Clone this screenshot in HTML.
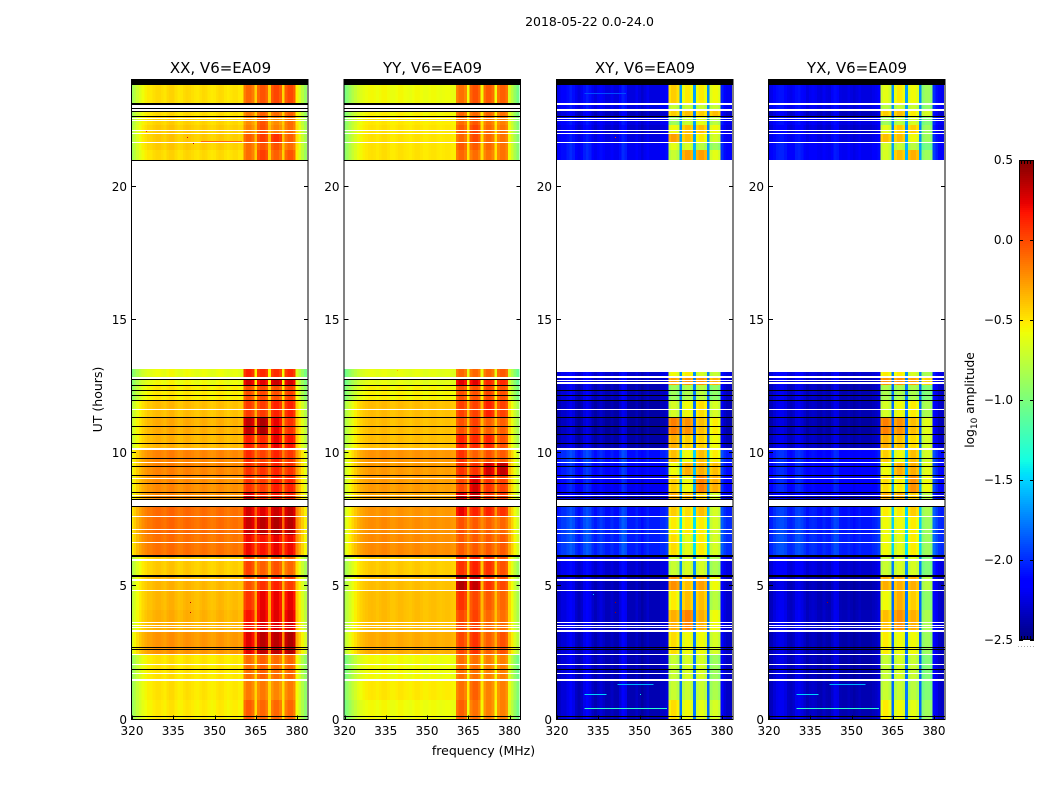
<!DOCTYPE html>
<html lang="en">
<head>
<meta charset="utf-8">
<title>2018-05-22 amplitude waterfall</title>
<style>
html,body{margin:0;padding:0;background:#fff;}
svg{display:block;font-family:"DejaVu Sans","Liberation Sans",sans-serif;fill:#000;}
</style>
</head>
<body>
<svg id="fig" width="1050" height="800" viewBox="0 0 1050 800" xmlns="http://www.w3.org/2000/svg">
  <rect x="0" y="0" width="1050" height="800" fill="#fff"/>
  <text x="589.5" y="26" font-size="12.5" text-anchor="middle">2018-05-22 0.0-24.0</text>
  <text x="220.5" y="73" font-size="15" text-anchor="middle">XX, V6=EA09</text>
  <text x="432.5" y="73" font-size="15" text-anchor="middle">YY, V6=EA09</text>
  <text x="645" y="73" font-size="15" text-anchor="middle">XY, V6=EA09</text>
  <text x="857" y="73" font-size="15" text-anchor="middle">YX, V6=EA09</text>
  <text transform="translate(102,399.5) rotate(-90)" font-size="12.5" text-anchor="middle">UT (hours)</text>
  <text x="483.5" y="755" font-size="12.5" text-anchor="middle">frequency (MHz)</text>
  <text transform="translate(974,400) rotate(-90)" font-size="12.2" text-anchor="middle">log<tspan font-size="9" dy="3">10</tspan><tspan dy="-3"> amplitude</tspan></text>
  <g id="panels"></g>
  <g id="cbar"></g>
</svg>
<script>
// ---------- time bands (UT hours) ----------
const bandTop = [24,23.14,22.88,22.62,22.32,22.02,21.68,21.38,13.16,12.86,12.56,11.99,11.36,10.72,10.15,9.63,9.14,8.50,8.09,7.64,6.93,6.14,5.39,4.82,4.11,3.32,2.46,1.45,0.73];
const bandBottom = [23.14,22.88,22.62,22.32,22.02,21.68,21.38,20.98,12.86,12.56,11.99,11.36,10.72,10.15,9.63,9.14,8.50,8.09,7.64,6.93,6.14,5.39,4.82,4.11,3.32,2.46,1.45,0.73,0];

// ---------- broadband level of each time band (log10 amplitude) ----------
const lowXX = [-.48,-.5,-.48,-.45,-.42,-.42,-.43,-.47,-.6,-.58,-.52,-.38,-.33,-.35,-.2,-.2,-.22,-.22,-.12,-.12,-.14,-.42,-.36,-.36,-.34,-.25,-.5,-.5,-.52];
const lowYY = [-.58,-.58,-.55,-.52,-.5,-.5,-.5,-.5,-.62,-.62,-.55,-.38,-.38,-.38,-.25,-.27,-.27,-.3,-.25,-.23,-.22,-.42,-.38,-.38,-.38,-.32,-.58,-.52,-.58];
const lowXY = [-2.3,-2.3,-2.4,-2.3,-2.35,-2.3,-2.25,-2.25,-2.35,-2.4,-2.42,-2.45,-2.48,-2.45,-2.15,-2.2,-2.25,-2.35,-2.15,-2.1,-2.1,-2.35,-2.42,-2.4,-2.4,-2.42,-2.42,-2.42,-2.42];
const lowYX = [-2.3,-2.3,-2.4,-2.3,-2.35,-2.3,-2.25,-2.25,-2.35,-2.4,-2.42,-2.42,-2.46,-2.42,-2.2,-2.22,-2.22,-2.35,-2.15,-2.12,-2.1,-2.35,-2.44,-2.42,-2.4,-2.44,-2.44,-2.42,-2.42];

// ---------- channel response, 64 channels from 320 MHz ----------
const channelXX = [-.4,-.3,-.22,-.16,-.1,-.06,-.03,-.03,0,.02,.02,0,-.02,.02,.04,.04,0,-.03,-.02,.01,.03,.02,0,-.02,-.03,0,.02,.01,-.02,-.04,-.03,0,.02,.01,-.02,-.04,-.02,0,0,-.03,-.03,0,0,0,0,.05,0,0,0,0,.05,0,0,0,0,.03,0,0,0,0,-.06,-.18,-.3,-.42];
const channelYY = [-.45,-.38,-.3,-.22,-.16,-.1,-.06,-.03,-.01,.01,.02,.01,-.01,.01,.03,.03,.01,-.02,-.02,0,.02,.02,0,-.01,-.02,0,.02,.02,0,-.02,-.02,0,.01,.01,-.01,-.02,-.01,0,0,-.02,-.03,0,0,0,0,0,0,0,0,0,.02,0,0,0,0,0,0,0,0,0,-.08,-.2,-.34,-.46];
const channelXY = [.05,.1,.15,.15,.2,.25,.2,.1,.05,.1,.2,.25,.2,.1,.05,.1,.15,.1,.05,.05,.1,.05,.05,.15,.25,.2,.05,.05,.05,.1,.05,0,.05,.1,.05,.05,.05,.05,.1,.1,.15,0,0,0,0,.65,0,0,0,0,.65,0,0,0,0,.6,0,0,0,0,.25,.15,.1,.1];
const channelYX = [.05,.08,.15,.2,.22,.22,.18,.1,.08,.12,.2,.22,.18,.12,.06,.1,.12,.1,.06,.05,.1,.06,.05,.12,.2,.18,.06,.05,.05,.08,.05,.02,.05,.08,.05,.05,.05,.05,.08,.1,.15,0,0,0,0,.6,0,0,0,0,.65,0,0,0,0,.6,0,0,0,0,.3,.2,.12,.1];

// ---------- level of four 360-381 MHz sub-bands, one row per time band ----------
const blockXX = [[-.12,-.06,-.02,-.02],[-.14,-.1,-.1,-.06],[-.18,-.1,-.14,-.1],[-.24,-.06,-.24,-.14],[-.2,-.04,-.2,-.14],[-.08,.02,.06,-.1],[-.14,-.05,-.05,-.14],[-.14,.01,-.1,-.06],[.1,.08,.06,.08],[.25,.22,.28,.25],[-.05,-.02,-.05,0],[.02,.02,.1,.1],[.3,.36,.2,.05],[.12,.08,.2,.15],[.08,0,.1,.03],[.05,.05,.1,.05],[.05,.02,.12,.1],[.25,.08,.12,.1],[.25,.22,.28,.3],[.28,.32,.35,.33],[.18,.15,.2,.18],[0,-.1,-.05,-.12],[-.05,.05,.1,.02],[.05,.2,.2,.2],[.15,.22,.22,.24],[.22,.32,.32,.35],[-.14,-.1,-.14,-.12],[-.18,-.18,-.22,-.18],[-.08,-.12,-.12,-.12]];
const blockYY = [[-.15,-.05,-.08,-.1],[-.12,-.12,-.12,-.12],[-.12,-.12,-.12,-.16],[-.14,-.07,-.16,-.2],[-.08,0,-.12,-.16],[-.12,-.02,-.12,-.16],[-.08,-.08,-.12,-.16],[-.12,-.14,-.16,-.16],[-.12,-.12,-.12,-.08],[.22,.22,.08,.08],[-.05,-.05,-.02,-.05],[0,0,.1,0],[-.05,0,-.1,-.1],[.1,.08,.1,-.05],[.05,-.1,-.05,-.08],[.05,.05,.25,.3],[-.02,.25,.05,0],[.25,.3,.05,.02],[.2,.1,.1,.05],[-.05,-.08,-.1,-.12],[-.08,-.08,-.08,-.08],[.05,.1,.05,-.05],[.35,.3,.05,-.02],[.05,-.02,-.08,-.12],[-.02,0,-.12,-.15],[-.02,.05,-.1,-.05],[-.15,-.15,-.2,-.2],[-.15,-.1,-.2,-.2],[-.1,-.15,-.2,-.2]];
const blockXY = [[-.45,-.55,-.55,-.6],[-.75,-.75,-.75,-.75],[-.45,-.4,-.45,-.4],[-.9,-.75,-.65,-.8],[-.6,-.4,-.4,-.6],[-.3,-.4,-.55,-.7],[-.65,-.7,-.8,-.9],[-.75,-.3,-.3,-.65],[-.6,-.55,-.7,-.75],[-.3,-.25,-.25,-.35],[-.9,-.85,-.8,-.95],[-.7,-.6,-.5,-.7],[-.2,-.25,-.4,-.55],[-.35,-.45,-.45,-.6],[-.4,-.6,-.4,-.55],[-.6,-.35,-.35,-.4],[-.45,-.6,-.2,-.35],[-.35,-.4,-.45,-.7],[-.45,-.5,-.4,-.7],[-.55,-.55,-.55,-.7],[-.5,-.65,-.55,-.7],[-.75,-.7,-.7,-.85],[-.25,-.4,-.3,-.6],[-.55,-.4,-.4,-.8],[-.35,-.2,-.35,-.6],[-.5,-.6,-.6,-.7],[-.75,-.7,-.7,-.9],[-.75,-.75,-.75,-.85],[-.5,-.6,-.65,-.7]];
const blockYX = [[-.65,-.55,-.6,-.9],[-.8,-.75,-.75,-.95],[-.45,-.4,-.55,-.7],[-.9,-.8,-.7,-1],[-.65,-.45,-.45,-.9],[-.4,-.4,-.6,-.9],[-.7,-.75,-.8,-1.05],[-.7,-.4,-.35,-.9],[-.55,-.55,-.7,-.85],[-.25,-.25,-.3,-.45],[-.85,-.85,-.85,-1],[-.7,-.6,-.55,-.85],[-.2,-.25,-.4,-.65],[-.35,-.4,-.5,-.7],[-.45,-.6,-.4,-.7],[-.6,-.35,-.35,-.65],[-.5,-.55,-.25,-.6],[-.35,-.35,-.45,-.8],[-.55,-.55,-.45,-.85],[-.6,-.6,-.55,-.9],[-.6,-.65,-.55,-.9],[-.75,-.7,-.7,-1],[-.35,-.35,-.35,-.8],[-.6,-.35,-.45,-.95],[-.4,-.25,-.35,-.85],[-.55,-.6,-.6,-.9],[-.75,-.7,-.75,-1],[-.75,-.75,-.8,-1],[-.55,-.6,-.65,-.9]];
const blockFirstChannel = [41,46,51,56];
const blockColumnShape = [-.04,.03,.03,-.04];

// ---------- flagged time ranges: 'w' blank, 'k' zero amplitude ----------
const sharedFlagTop = [12.35,12.17,11.99,11.66,11.35,11.01,10.70,10.36,10.19,9.80,9.65,9.51,9.16,9.06,8.86,8.52,8.42,8.34,8.26,8.24,8.08,8.01,7.64,7.15,6.99,6.67,6.16,6.02,5.42,5.26,4.86,3.65,3.55,3.46,3.36,2.71,2.63,2.47,2.07,1.89,1.73,1.51,0.12,22.65,22.58,22.50,22.12,22.01,21.67];
const sharedFlagBottom = [12.33,12.14,11.96,11.61,11.32,10.99,10.68,10.34,10.12,9.77,9.62,9.49,9.14,9.02,8.84,8.50,8.39,8.31,8.24,8.10,8.01,7.98,7.61,7.11,6.96,6.63,6.11,5.96,5.36,5.21,4.82,3.61,3.51,3.42,3.29,2.68,2.61,2.42,2.05,1.87,1.71,1.44,0.08,22.62,22.53,22.47,22.08,21.98,21.63];
const sharedFlagKind = ['k','k','k','w','k','k','k','k','w','k','w','k','k','w','k','k','w','k','k','w','w','k','w','w','w','w','k','w','k','w','w','w','w','w','w','k','k','w','w','k','w','w','k','k','w','w','w','w','w'];
const autoFlagTop = [24,23.14,23.08,22.96,22.92,22.84,21.01,12.85,12.78,12.55];
const autoFlagBottom = [23.82,23.08,22.96,22.92,22.84,22.81,20.97,12.78,12.74,12.53];
const autoFlagKind = ['k','k','w','k','w','k','k','w','k','k'];
const crossFlagTop = [24,23.14,22.92,13.14,12.90,12.75,12.66];
const crossFlagBottom = [23.82,23.06,22.84,13.05,12.83,12.71,12.58];
const crossFlagKind = ['k','w','w','w','w','w','w'];

// ---------- isolated outlier pixels ----------
const spotPanel = [0,0,0,0,0,1,2,2,2,2,2,2,3,3];
const spotHour = [21.65,4.42,4.05,22.09,21.85,13.1,4.42,4.05,3.65,4.7,0.95,21.85,4.42,3.65];
const spotMHz = [342,341,341,325,340,339,341,341,341,333,350,341,341,341];
const spotValue = [.4,.4,.4,.1,.3,-.3,.4,.4,-.4,-1.5,-1.4,.1,.4,-.4];

// ---------- narrow horizontal streaks ----------
const streakPanel = [0,2,2,2,2,3,3,3];
const streakHour = [21.7,1.32,0.95,0.43,23.5,1.32,0.95,0.43];
const streakFrom = [345,342,330,330,330,342,330,330];
const streakTo = [360,355,338,360,345,355,338,360];
const streakValue = [-.12,-1.6,-1.5,-1.3,-1.9,-1.6,-1.5,-1.3];

// ---------- axes ----------
const panelLeft = [132,344.5,557,769];
const freqTicks = [320,335,350,365,380];
const hourTicks = [0,5,10,15,20];
const colorbarTicks = [0.5,0,-0.5,-1,-1.5,-2,-2.5];
const colorbarLabels = ['0.5','0.0','\u22120.5','\u22121.0','\u22121.5','\u22122.0','\u22122.5'];

const lowByPanel = [lowXX,lowYY,lowXY,lowYX];
const channelByPanel = [channelXX,channelYY,channelXY,channelYX];
const blockByPanel = [blockXX,blockYY,blockXY,blockYX];
const panelNames = ['xx','yy','xy','yx'];

const NS = 'http://www.w3.org/2000/svg';
const PX_PER_MHZ = 2.75, PANEL_W = 176, PLOT_TOP = 80, PLOT_BOTTOM = 719.5;
const VMIN = -2.5, VMAX = 0.5;

function xScale(p, mhz){ return panelLeft[p] + (mhz - 320) * PX_PER_MHZ; }
function yScale(h){ return PLOT_BOTTOM - h * (PLOT_BOTTOM - PLOT_TOP) / 24; }
function cbScale(v){ return 160 + (VMAX - v) * 160; }

function piece(t, pts){
  for (let i = 1; i < pts.length; i++) {
    if (t <= pts[i][0]) {
      const a = pts[i-1], b = pts[i];
      return a[1] + (b[1]-a[1]) * (t-a[0]) / (b[0]-a[0]);
    }
  }
  return pts[pts.length-1][1];
}
function jet(v){
  const t = Math.max(0, Math.min(1, (v - VMIN) / (VMAX - VMIN)));
  const r = piece(t, [[0,0],[.35,0],[.66,1],[.89,1],[1,.5]]);
  const g = piece(t, [[0,0],[.125,0],[.375,1],[.64,1],[.91,0],[1,0]]);
  const b = piece(t, [[0,.5],[.11,1],[.34,1],[.65,0],[1,0]]);
  return 'rgb(' + Math.round(r*255) + ',' + Math.round(g*255) + ',' + Math.round(b*255) + ')';
}
function mk(parent, tag, attrs){
  const e = document.createElementNS(NS, tag);
  for (const k in attrs) e.setAttribute(k, attrs[k]);
  parent.appendChild(e);
  return e;
}
function cellValue(p, band, ch){
  for (let b = 0; b < 4; b++) {
    const c = ch - blockFirstChannel[b];
    if (c >= 0 && c < 4) return blockByPanel[p][band][b] + blockColumnShape[c];
  }
  return lowByPanel[p][band] + channelByPanel[p][ch];
}
function hBar(g, p, h0, h1, fill){
  let y0 = Math.round(yScale(h0));
  let y1 = Math.round(yScale(h1));
  if (y1 <= y0) y1 = y0 + 1;
  return mk(g, 'rect', {x: panelLeft[p], y: y0, width: PANEL_W, height: y1 - y0, fill: fill, 'shape-rendering': 'crispEdges'});
}

const panelsRoot = document.getElementById('panels');
panelNames.forEach(function(name, p){
  const g = mk(panelsRoot, 'g', {});
  
  

  // heatmap cells
  bandTop.forEach(function(top, band){
    const y0 = Math.round(yScale(top));
    const y1 = Math.round(yScale(bandBottom[band]));
    channelByPanel[p].forEach(function(_, ch){
      const m0 = Math.max(320, 320 + ch - 0.5);
      const m1 = Math.min(384, 320 + ch + 0.5);
      const x0 = xScale(p, m0), x1 = xScale(p, m1);
      const cell = mk(g, 'rect', {x: x0.toFixed(2), y: y0, width: (x1 - x0 + 0.3).toFixed(2), height: y1 - y0, fill: jet(cellValue(p, band, ch)), 'shape-rendering': 'crispEdges'});
      
      
    });
  });

  // streaks
  streakPanel.forEach(function(sp, i){
    if (sp !== p) return;
    const s = mk(g, 'rect', {x: xScale(p, streakFrom[i]), y: Math.round(yScale(streakHour[i])), width: (streakTo[i]-streakFrom[i])*PX_PER_MHZ, height: 1, fill: jet(streakValue[i]), 'shape-rendering': 'crispEdges'});
    
    
  });

  // outlier spots
  spotPanel.forEach(function(sp, i){
    if (sp !== p) return;
    const s = mk(g, 'rect', {x: Math.round(xScale(p, spotMHz[i])), y: Math.round(yScale(spotHour[i])), width: 1, height: 1, fill: jet(spotValue[i]), 'shape-rendering': 'crispEdges'});
    
    
  });

  // flagged rows
  const tops = sharedFlagTop.concat(p < 2 ? autoFlagTop : crossFlagTop);
  const bottoms = sharedFlagBottom.concat(p < 2 ? autoFlagBottom : crossFlagBottom);
  const kinds = sharedFlagKind.concat(p < 2 ? autoFlagKind : crossFlagKind);
  tops.forEach(function(t, i){
    const f = hBar(g, p, t, bottoms[i], kinds[i] === 'k' ? '#000' : '#fff');
    
    
  });

  // frame
  const frame = mk(g, 'rect', {x: panelLeft[p] - 0.5, y: PLOT_TOP - 0.5, width: PANEL_W + 0.5, height: PLOT_BOTTOM - PLOT_TOP + 0.5, fill: 'none', stroke: '#000', 'stroke-width': 1});
  
  

  // frequency ticks + labels
  freqTicks.forEach(function(f){
    const x = Math.round(xScale(p, f)) + 0.5;
    const t1 = mk(g, 'line', {x1: x, x2: x, y1: PLOT_BOTTOM, y2: PLOT_BOTTOM - 4, stroke: '#000', 'stroke-width': 1});
    
    
    const t2 = mk(g, 'line', {x1: x, x2: x, y1: PLOT_TOP, y2: PLOT_TOP + 4, stroke: '#000', 'stroke-width': 1});
    
    
    const lab = mk(g, 'text', {x: xScale(p, f), y: 735, 'font-size': 12, 'text-anchor': 'middle'});
    lab.textContent = String(f);
    
    
  });

  // hour ticks + labels
  hourTicks.forEach(function(h){
    const y = Math.round(yScale(h)) - 0.5;
    const left = panelLeft[p], right = panelLeft[p] + PANEL_W;
    const t1 = mk(g, 'line', {x1: left, x2: left + 4, y1: y, y2: y, stroke: '#000', 'stroke-width': 1});
    
    
    const t2 = mk(g, 'line', {x1: right - 4, x2: right, y1: y, y2: y, stroke: '#000', 'stroke-width': 1});
    
    
    const lab = mk(g, 'text', {x: left - 5, y: y + 4.5, 'font-size': 12, 'text-anchor': 'end'});
    lab.textContent = String(h);
    
    
  });
});

// ---------- colourbar ----------
const cbar = document.getElementById('cbar');
const CB_LEFT = 1019, CB_RIGHT = 1034;
for (let y = 160; y < 640; y += 2) {
  const v = VMAX - (y + 1 - 160) / 160;
  const seg = mk(cbar, 'rect', {x: CB_LEFT, y: y, width: CB_RIGHT - CB_LEFT, height: 2, fill: jet(v), 'shape-rendering': 'crispEdges'});
  
  
}
const cbFrame = mk(cbar, 'rect', {x: CB_LEFT + 0.5, y: 160.5, width: CB_RIGHT - CB_LEFT - 1, height: 479, fill: 'none', stroke: '#000', 'stroke-width': 1});


colorbarTicks.forEach(function(v, i){
  const y = Math.round(cbScale(v)) + 0.5;
  const a = mk(cbar, 'line', {x1: CB_LEFT, x2: CB_LEFT + 4, y1: y, y2: y, stroke: '#000', 'stroke-width': 1});
  
  
  const b = mk(cbar, 'line', {x1: CB_RIGHT - 4, x2: CB_RIGHT, y1: y, y2: y, stroke: '#000', 'stroke-width': 1});
  
  
  const lab = mk(cbar, 'text', {x: 1013, y: cbScale(v) + 4, 'font-size': 12, 'text-anchor': 'end'});
  lab.textContent = colorbarLabels[i];
  
  
});
for (let i = 0; i < 5; i++) {
  const x = CB_LEFT + 2.5 + i * 3;
  const top = mk(cbar, 'line', {x1: x, x2: x, y1: 160, y2: 164, stroke: '#000', 'stroke-width': 1});
  
  
  const bot = mk(cbar, 'line', {x1: x, x2: x, y1: 636, y2: 640, stroke: '#000', 'stroke-width': 1});
  
  
}
for (let i = 0; i < 6; i++) {
  const dot = mk(cbar, 'rect', {x: 1018 + i * 3, y: 646, width: 1, height: 1, fill: '#aaa'});
  
  
}
</script>
</body>
</html>
